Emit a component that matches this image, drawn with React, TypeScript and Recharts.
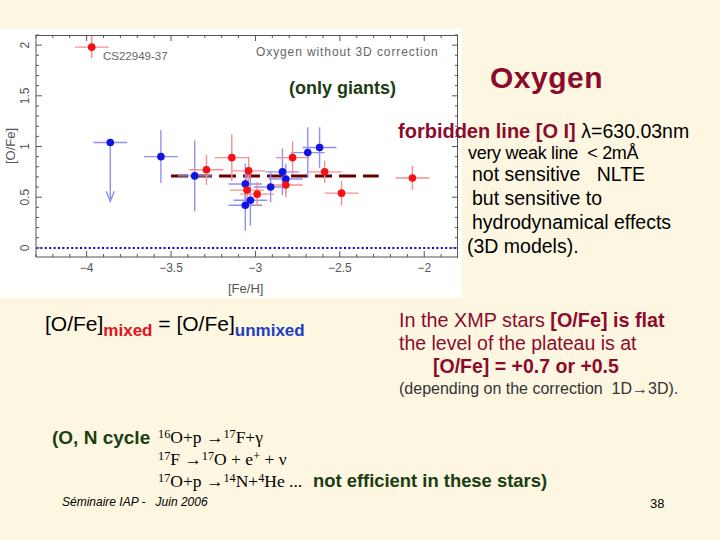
import React from "react";
import {
  ScatterChart,
  Scatter,
  XAxis,
  YAxis,
  ErrorBar,
  ReferenceLine,
} from "recharts";

// giants, red symbols ("mixed")
const redFeH = [-3.97, -3.29, -3.14, -3.04, -3.05, -2.99, -2.78, -2.82, -2.59, -2.49, -2.07];
const redOFe = [1.98, 0.77, 0.89, 0.76, 0.57, 0.53, 0.89, 0.62, 0.75, 0.54, 0.69];
const redErrFeH = [0.1, 0.1, 0.1, 0.1, 0.1, 0.1, 0.1, 0.1, 0.1, 0.1, 0.1];
const redErrOFe = [0.11, 0.15, 0.23, 0.14, 0.15, 0.12, 0.16, 0.12, 0.11, 0.12, 0.12];

// giants, blue symbols ("unmixed")
const blueFeH = [-3.56, -3.36, -3.06, -3.03, -3.06, -2.91, -2.84, -2.82, -2.69, -2.62];
const blueOFe = [0.9, 0.71, 0.63, 0.47, 0.42, 0.6, 0.75, 0.68, 0.94, 0.99];
const blueErrFeH = [0.1, 0.1, 0.1, 0.1, 0.1, 0.1, 0.1, 0.1, 0.1, 0.1];
const blueErrOFe = [0.26, 0.35, 0.2, 0.25, 0.25, 0.15, 0.23, 0.15, 0.25, 0.2];

// upper limit star
const limitFeH = -3.86;
const limitOFe = 1.04;
const limitErrFeH = 0.1;
const limitArrowTo = 0.46;

const plateauOFe = 0.71;
const plateauFrom = -3.5;
const plateauTo = -2.27;

const xDomain = [-4.3, -1.8];
const yDomain = [-0.09, 2.1];
const xTicks = [
  -4.3, -4.2, -4.1, -4, -3.9, -3.8, -3.7, -3.6, -3.5, -3.4, -3.3, -3.2, -3.1,
  -3, -2.9, -2.8, -2.7, -2.6, -2.5, -2.4, -2.3, -2.2, -2.1, -2, -1.9,
];
const yTicks = [
  0, 0.1, 0.2, 0.3, 0.4, 0.5, 0.6, 0.7, 0.8, 0.9, 1, 1.1, 1.2, 1.3, 1.4, 1.5,
  1.6, 1.7, 1.8, 1.9, 2, 2.1,
];
const xLabels: Record<string, string> = {
  "-4": "\u22124",
  "-3.5": "\u22123.5",
  "-3": "\u22123",
  "-2.5": "\u22122.5",
  "-2": "\u22122",
};
const yLabels: Record<string, string> = {
  "0": "0",
  "0.5": "0.5",
  "1": "1",
  "1.5": "1.5",
  "2": "2",
};

const redData = redFeH.map((x, i) => ({
  x,
  y: redOFe[i],
  ex: redErrFeH[i],
  ey: redErrOFe[i],
}));
const blueData = blueFeH.map((x, i) => ({
  x,
  y: blueOFe[i],
  ex: blueErrFeH[i],
  ey: blueErrOFe[i],
}));
const limitData = [
  { x: limitFeH, y: limitOFe, ex: limitErrFeH, ey: [limitOFe - limitArrowTo, 0] },
];
const arrowData = [{ x: limitFeH, y: limitArrowTo }];

const AXIS = "#555";
const RED = "#f21212";
const BLUE = "#1212e4";
const RED_ERR = "#f49090";
const BLUE_ERR = "#9090f0";
const DARK_RED = "#8c0b2c";
const GREEN = "#1b3d12";
const BG = "#fdf7e2";

// plot box size (chart 462x269 minus margins and axis sizes)
const PLOT_W = 422;
const PLOT_H = 222;

const isMajor = (v: number) => Math.abs(v * 2 - Math.round(v * 2)) < 1e-6;

// bottom tick, plus its mirror on the top edge of the frame
const BottomTick = (props: any) => {
  const { x, y, payload } = props;
  const v = payload.value;
  const len = isMajor(v) ? 6 : 3;
  const label = xLabels[String(v)];
  const px = Number(x);
  const py = Number(y);
  const top = py - PLOT_H;
  return (
    <g>
      <line x1={px} x2={px} y1={py} y2={py - len} stroke={AXIS} strokeWidth={1} />
      <path d={`M${px},${top}V${top + len}`} stroke={AXIS} strokeWidth={1} fill="none" />
      {label && (
        <text x={px} y={py + 15} textAnchor="middle" fontSize={12} fill={AXIS} fontFamily="Liberation Sans">
          {label}
        </text>
      )}
    </g>
  );
};

// left tick, plus its mirror on the right edge of the frame
const LeftTick = (props: any) => {
  const { x, y, payload } = props;
  const v = payload.value;
  const len = isMajor(v) ? 6 : 3;
  const label = yLabels[String(v)];
  const px = Number(x);
  const py = Number(y);
  const right = px + PLOT_W;
  return (
    <g>
      <line x1={px} x2={px + len} y1={py} y2={py} stroke={AXIS} strokeWidth={1} />
      <path d={`M${right},${py}H${right - len}`} stroke={AXIS} strokeWidth={1} fill="none" />
      {label && (
        <text
          x={px - 11}
          y={py}
          textAnchor="middle"
          dominantBaseline="central"
          fontSize={12}
          fill={AXIS}
          fontFamily="Liberation Sans"
          transform={`rotate(-90 ${px - 11} ${py})`}
        >
          {label}
        </text>
      )}
    </g>
  );
};

const dot = (color: string) => (props: any) =>
  <circle cx={props.cx} cy={props.cy} r={3.8} fill={color} />;

const ArrowHead = (props: any) => {
  const { cx, cy } = props;
  return (
    <path
      d={`M${cx - 4},${cy - 10} L${cx},${cy} L${cx + 4},${cy - 10}`}
      fill="none"
      stroke={BLUE_ERR}
      strokeWidth={1.4}
    />
  );
};

const T = (props: {
  x: number;
  y: number;
  size: number;
  color?: string;
  bold?: boolean;
  italic?: boolean;
  serif?: boolean;
  spacing?: number;
  children: React.ReactNode;
}) => (
  <div
    style={{
      position: "absolute",
      left: props.x,
      top: props.y,
      transform: "translateY(-50%)",
      fontSize: props.size,
      lineHeight: 1,
      color: props.color || "#000",
      fontWeight: props.bold ? "bold" : "normal",
      fontStyle: props.italic ? "italic" : "normal",
      fontFamily: props.serif ? "Liberation Serif" : "Liberation Sans",
      letterSpacing: props.spacing || 0,
      whiteSpace: "pre",
    }}
  >
    {props.children}
  </div>
);

const sup = (s: string) => (
  <span style={{ fontSize: "0.7em", verticalAlign: "0.45em" }}>{s}</span>
);

export default function App() {
  return (
    <div
      style={{
        position: "fixed",
        left: 0,
        top: 0,
        width: 720,
        height: 540,
        background: BG,
        overflow: "hidden",
      }}
    >
      <div style={{ position: "absolute", left: 0, top: 29, width: 462, height: 269, background: "#fff" }}>
        {/* top and right edges of the plot frame */}
        <div
          style={{
            position: "absolute",
            left: 36,
            top: 6,
            width: PLOT_W - 1,
            height: PLOT_H,
            borderTop: `1px solid ${AXIS}`,
            borderRight: `1px solid ${AXIS}`,
            pointerEvents: "none",
          }}
        />
        <ScatterChart
          width={462}
          height={269}
          margin={{ top: 6, right: 4, bottom: 11, left: 6 }}
        >
          <XAxis
            type="number"
            dataKey="x"
            domain={xDomain}
            allowDataOverflow
            ticks={xTicks}
            interval={0}
            height={30}
            tickSize={0}
            tickMargin={0}
            tickLine={false}
            tick={<BottomTick />}
            axisLine={{ stroke: AXIS }}
          />
          <YAxis
            type="number"
            dataKey="y"
            domain={yDomain}
            allowDataOverflow
            ticks={yTicks}
            interval={0}
            width={30}
            tickSize={0}
            tickMargin={0}
            tickLine={false}
            tick={<LeftTick />}
            axisLine={{ stroke: AXIS }}
          />
          <ReferenceLine
            y={0}
            stroke="#0a0ad8"
            strokeWidth={2}
            strokeDasharray="2 2.4"
          />
          <ReferenceLine
            segment={[
              { x: plateauFrom, y: plateauOFe },
              { x: plateauTo, y: plateauOFe },
            ]}
            stroke="#6a0000"
            strokeWidth={3}
            strokeDasharray="17 7"
          />
          <Scatter data={limitData} shape={dot(BLUE)} isAnimationActive={false}>
            <ErrorBar dataKey="ex" direction="x" width={0} stroke={BLUE_ERR} strokeWidth={1.4} />
            <ErrorBar dataKey="ey" direction="y" width={0} stroke={BLUE_ERR} strokeWidth={1.4} />
          </Scatter>
          <Scatter data={arrowData} shape={<ArrowHead />} isAnimationActive={false} />
          <Scatter data={blueData} shape={dot(BLUE)} isAnimationActive={false}>
            <ErrorBar dataKey="ex" direction="x" width={0} stroke={BLUE_ERR} strokeWidth={1.4} />
            <ErrorBar dataKey="ey" direction="y" width={0} stroke={BLUE_ERR} strokeWidth={1.4} />
          </Scatter>
          <Scatter data={redData} shape={dot(RED)} isAnimationActive={false}>
            <ErrorBar dataKey="ex" direction="x" width={0} stroke={RED_ERR} strokeWidth={1.4} />
            <ErrorBar dataKey="ey" direction="y" width={0} stroke={RED_ERR} strokeWidth={1.4} />
          </Scatter>
        </ScatterChart>
      </div>

      {/* labels inside the plot picture */}
      <T x={103} y={57} size={11.5} color="#666">CS22949-37</T>
      <T x={256} y={52} size={12} color="#666" spacing={0.9}>Oxygen without 3D correction</T>
      <div
        style={{
          position: "absolute",
          left: 10,
          top: 146,
          transform: "translate(-50%, -50%) rotate(-90deg)",
          fontSize: 13,
          color: "#555",
          fontFamily: "Liberation Sans",
          whiteSpace: "pre",
        }}
      >
        [O/Fe]
      </div>
      <T x={228} y={288} size={13} color="#555">[Fe/H]</T>

      {/* slide text */}
      <T x={289} y={88} size={18} color={GREEN} bold>(only giants)</T>
      <T x={490} y={78} size={30} color={DARK_RED} bold spacing={0.5}>Oxygen</T>
      <T x={398} y={131} size={20} color={DARK_RED} bold>
        forbidden line [O I] <span style={{ color: "#000", fontWeight: "normal", fontSize: 19.5 }}>λ=630.03nm</span>
      </T>
      <T x={468} y={153} size={18} spacing={-0.3}>very weak line  &lt; 2mÅ</T>
      <T x={472} y={175} size={19.5}>not sensitive   NLTE</T>
      <T x={472} y={199} size={19.5}>but sensitive to</T>
      <T x={472} y={223} size={19.5}>hydrodynamical effects</T>
      <T x={467} y={247} size={19.5}>(3D models).</T>

      <T x={45} y={326} size={21}>
        [O/Fe]
        <span style={{ fontSize: 17, fontWeight: "bold", color: "#e0141c", verticalAlign: "-0.25em" }}>mixed</span>
        {" = [O/Fe]"}
        <span style={{ fontSize: 17, fontWeight: "bold", color: "#1a3fc0", verticalAlign: "-0.25em" }}>unmixed</span>
      </T>

      <T x={399} y={321} size={19.8} color={DARK_RED}>
        In the XMP stars <b>[O/Fe] is flat</b>
      </T>
      <T x={399} y={344} size={19.5} color={DARK_RED}>the level of the plateau is at</T>
      <T x={433} y={367} size={19.5} color={DARK_RED} bold>[O/Fe] = +0.7 or +0.5</T>
      <T x={399} y={389} size={16} color="#333">(depending on the correction  1D→3D).</T>

      <T x={52} y={437} size={19} color={GREEN} bold>(O, N cycle</T>
      <T x={158} y={437} size={17.5} serif>
        {sup("16")}O+p →{sup("17")}F+γ
      </T>
      <T x={158} y={459} size={17.5} serif>
        {sup("17")}F →{sup("17")}O + e{sup("+")} + ν
      </T>
      <T x={158} y={481} size={17.5} serif>
        {sup("17")}O+p →{sup("14")}N+{sup("4")}He ...
      </T>
      <T x={313} y={481} size={18.4} color={GREEN} bold>not efficient in these stars)</T>
      <T x={62} y={502} size={12} italic>Séminaire IAP -   Juin 2006</T>
      <T x={650} y={503} size={13}>38</T>
    </div>
  );
}
